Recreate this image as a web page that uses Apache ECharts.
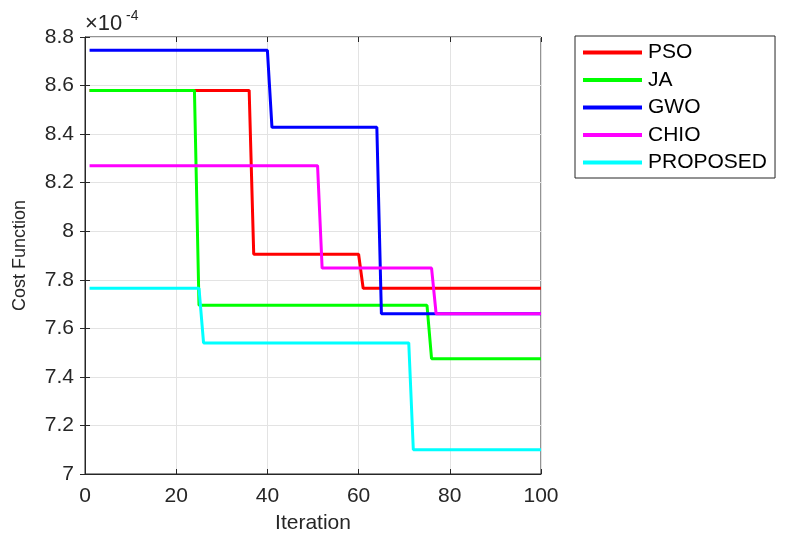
<!DOCTYPE html>
<html><head><meta charset="utf-8">
<script src="https://cdn.jsdelivr.net/npm/echarts@6/dist/echarts.min.js"></script>
<style>html,body{margin:0;padding:0;background:#fff}#c{width:785px;height:540px}</style>
</head><body><div id="c"></div>
<script>
// values in units of 1e-4; each series given as [iteration, value] breakpoints
const seriesNames = ['PSO', 'JA', 'GWO', 'CHIO', 'PROPOSED'];
const seriesColors = ['#ff0000', '#00ff00', '#0000ff', '#ff00ff', '#00ffff'];
const PSO = [[1, 8.58], [36, 8.58], [37, 7.905], [60, 7.905], [61, 7.765], [100, 7.765]];
const JA = [[1, 8.58], [24, 8.58], [25, 7.695], [75, 7.695], [76, 7.475], [100, 7.475]];
const GWO = [[1, 8.745], [40, 8.745], [41, 8.428], [64, 8.428], [65, 7.66], [100, 7.66]];
const CHIO = [[1, 8.27], [51, 8.27], [52, 7.848], [76, 7.848], [77, 7.66], [100, 7.66]];
const PROPOSED = [[1, 7.765], [25, 7.765], [26, 7.54], [71, 7.54], [72, 7.10], [100, 7.10]];
const xTicks = [0, 20, 40, 60, 80, 100];
const yTicks = [7, 7.2, 7.4, 7.6, 7.8, 8, 8.2, 8.4, 8.6, 8.8];

const allData = [PSO, JA, GWO, CHIO, PROPOSED];
const txt = '#262626';
const font = 'Liberation Sans, Arial, Helvetica, sans-serif';
const chart = echarts.init(document.getElementById('c'), null, {renderer: 'canvas'});
const gridPos = {left: 85, right: 244, top: 37, bottom: 66};
chart.setOption({
  animation: false,
  backgroundColor: '#fff',
  graphic: [
    {type: 'text', left: 85, top: 13, z: 10,
     style: {text: '×10', fontSize: 22, fill: txt, fontFamily: font}},
    {type: 'text', left: 126, top: 9, z: 10,
     style: {text: '-4', fontSize: 14, fill: txt, fontFamily: font}}
  ],
  legend: {
    orient: 'vertical', left: 575, top: 36,
    data: seriesNames,
    icon: 'rect', itemWidth: 59, itemHeight: 4, itemGap: 6.5,
    padding: [6, 8, 5, 8],
    borderColor: '#262626', borderWidth: 1,
    textStyle: {fontSize: 21, color: '#000', fontFamily: font, padding: [0, 0, 0, 1]}
  },
  grid: Object.assign({show: true, borderColor: txt, borderWidth: 1, backgroundColor: '#fff'}, gridPos),
  xAxis: [{
    type: 'value', min: 0, max: 100, interval: 20,
    name: 'Iteration', nameLocation: 'middle', nameGap: 39,
    nameTextStyle: {fontSize: 21, color: txt, fontFamily: font},
    axisLine: {show: true, lineStyle: {color: txt}},
    axisTick: {show: true, inside: true, length: 5, lineStyle: {color: txt}},
    axisLabel: {fontSize: 21, color: txt, fontFamily: font, margin: 12},
    splitLine: {show: true, lineStyle: {color: '#e3e3e3'}}
  }, {
    type: 'value', min: 0, max: 100, interval: 20, position: 'top',
    axisLine: {show: false}, axisLabel: {show: false}, splitLine: {show: false},
    axisTick: {show: true, inside: true, length: 5, lineStyle: {color: txt}}
  }],
  yAxis: [{
    type: 'value', min: 7, max: 8.8, interval: 0.2,
    name: 'Cost Function', nameLocation: 'middle', nameGap: 56, nameRotate: 90,
    nameTextStyle: {fontSize: 18, color: txt, fontFamily: font},
    axisLine: {show: true, lineStyle: {color: txt}},
    axisTick: {show: true, inside: true, length: 5, lineStyle: {color: txt}},
    axisLabel: {fontSize: 21, color: txt, fontFamily: font, margin: 11,
      formatter: v => String(+(+v).toFixed(1))},
    splitLine: {show: true, lineStyle: {color: '#e3e3e3'}}
  }, {
    type: 'value', min: 7, max: 8.8, interval: 0.2, position: 'right',
    axisLine: {show: false}, axisLabel: {show: false}, splitLine: {show: false},
    axisTick: {show: true, inside: true, length: 5, lineStyle: {color: txt}}
  }],
  series: seriesNames.map((n, i) => ({
    name: n, type: 'line', data: allData[i], showSymbol: false, symbol: 'none',
    color: seriesColors[i],
    lineStyle: {width: 3, color: seriesColors[i]},
    z: 2 + i
  }))
});
</script></body></html>
